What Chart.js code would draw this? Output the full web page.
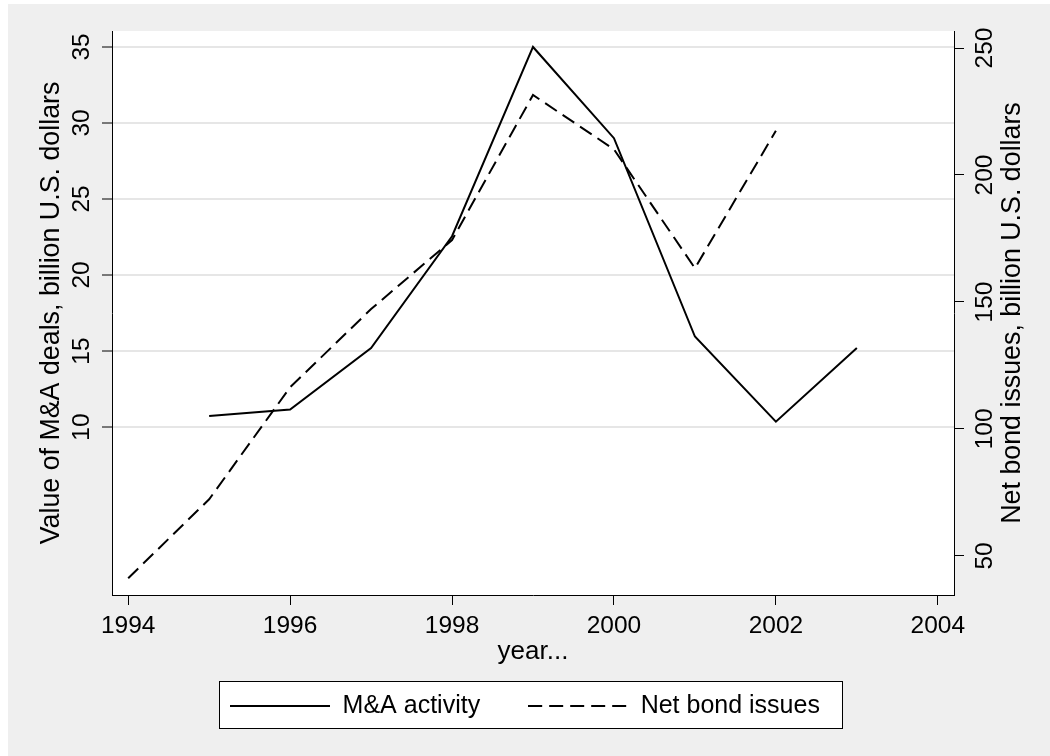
<!DOCTYPE html>
<html>
<head>
<meta charset="utf-8">
<script src="https://cdn.jsdelivr.net/npm/chart.js@4/dist/chart.umd.min.js"></script>
<style>
    html, body { margin: 0; padding: 0; background: #ffffff; }
    canvas { display: block; }
</style>
</head>
<body>
<canvas id="ma-bond-chart" width="1050" height="756"></canvas>
<script>
// 数据：按年份排列，缺失年份用 null
const years = [1994, 1995, 1996, 1997, 1998, 1999, 2000, 2001, 2002, 2003];
const maActivity = [null, 10.72, 11.15, 15.2, 22.55, 35.0, 29.0, 15.95, 10.35, 15.2];
const netBondIssues = [41.2, 72.3, 116.4, 147.2, 174.4, 231.5, 210.1, 163.3, 217.4, null];

const xTicks = [1994, 1996, 1998, 2000, 2002, 2004];
const leftTicks = [10, 15, 20, 25, 30, 35];
const rightTicks = [50, 100, 150, 200, 250];

const leftTitle = 'Value of M&A deals, billion U.S. dollars';
const rightTitle = 'Net bond issues, billion U.S. dollars';
const xTitle = 'year...';

const FONT = '"Liberation Sans", Arial, sans-serif';
const tickFont = { family: FONT, size: 24.5 };
const xTitleFont = { family: FONT, size: 26 };
const yTitleFont = { family: FONT, size: 26.8 };

/**
 * 图例线样：Chart.js 的 pointStyle 模式不带虚线，这里用小画布代替。
 * @param {number[]} dash
 */
function legendSample(dash) {
    const c = document.createElement('canvas');
    c.width = 100;
    c.height = 4;
    const g = c.getContext('2d');
    g.strokeStyle = '#000000';
    g.lineWidth = 2;
    g.setLineDash(dash);
    g.beginPath();
    g.moveTo(0, 2);
    g.lineTo(100, 2);
    g.stroke();
    return c;
}

/**
 * 背景、绘图区与图例边框（Stata 风格）。
 */
const stataFrame = {
    id: 'stataFrame',
    beforeDraw(chart) {
        const { ctx, chartArea } = chart;
        ctx.save();
        ctx.fillStyle = '#efefef';
        ctx.fillRect(8, 4, chart.width - 8, chart.height - 4);
        ctx.fillStyle = '#ffffff';
        ctx.fillRect(chartArea.left, chartArea.top, chartArea.right - chartArea.left, chartArea.bottom - chartArea.top);

        const hits = chart.legend && chart.legend.legendHitBoxes;
        if (hits && hits.length) {
            const first = hits[0];
            const last = hits[hits.length - 1];
            const left = first.left - 11;
            const right = last.left + last.width + 22;
            const top = first.top - 12.5;
            const bottom = first.top + first.height + 9.5;
            ctx.fillStyle = '#ffffff';
            ctx.fillRect(left, top, right - left, bottom - top);
            ctx.strokeStyle = '#000000';
            ctx.lineWidth = 1;
            ctx.strokeRect(Math.round(left) + 0.5, Math.round(top) + 0.5, Math.round(right - left), Math.round(bottom - top));
        }
        ctx.restore();
    },
    afterDraw(chart) {
        // 右轴标题与左轴一样自下而上书写，Chart.js 默认方向相反，所以这里单独绘制
        const { ctx, chartArea } = chart;
        ctx.save();
        ctx.translate(1013, (chartArea.top + chartArea.bottom) / 2);
        ctx.rotate(-Math.PI / 2);
        ctx.font = yTitleFont.size + 'px ' + FONT;
        ctx.fillStyle = '#000000';
        ctx.textAlign = 'center';
        ctx.textBaseline = 'middle';
        ctx.fillText(rightTitle, 0, 0);
        ctx.restore();
    }
};

const toPoints = (values) => years.map((x, i) => ({ x, y: values[i] }));

new Chart(document.getElementById('ma-bond-chart'), {
    type: 'line',
    data: {
        datasets: [
            {
                label: 'M&A activity',
                data: toPoints(maActivity),
                yAxisID: 'yLeft',
                borderColor: '#000000',
                backgroundColor: '#000000',
                borderWidth: 2,
                pointRadius: 0,
                pointStyle: legendSample([]),
                tension: 0
            },
            {
                label: 'Net bond issues',
                data: toPoints(netBondIssues),
                yAxisID: 'yRight',
                borderColor: '#000000',
                backgroundColor: '#000000',
                borderWidth: 2,
                borderDash: [14, 7],
                pointRadius: 0,
                pointStyle: legendSample([14, 7]),
                tension: 0
            }
        ]
    },
    options: {
        responsive: false,
        animation: false,
        events: [],
        layout: { padding: { top: 31, bottom: 27.5, left: 0, right: 0 } },
        scales: {
            x: {
                type: 'linear',
                min: 1993.8,
                max: 2004.2,
                afterBuildTicks: (scale) => { scale.ticks = xTicks.map((value) => ({ value })); },
                afterFit: (scale) => { scale.height = 50.5; },
                ticks: { font: tickFont, color: '#000000', padding: 7, maxRotation: 0, autoSkip: false, callback: (v) => String(v) },
                grid: { drawOnChartArea: false, drawTicks: true, tickLength: 10, tickColor: '#000000', tickWidth: 1 },
                border: { display: true, color: '#000000', width: 1 },
                title: { display: true, text: xTitle, font: xTitleFont, color: '#000000', padding: { top: 0, bottom: -22 } }
            },
            yLeft: {
                type: 'linear',
                position: 'left',
                min: -1.05,
                max: 36.05,
                afterBuildTicks: (scale) => { scale.ticks = leftTicks.map((value) => ({ value })); },
                afterFit: (scale) => { scale.width = 112; },
                ticks: { font: tickFont, color: '#000000', padding: 6.4, minRotation: 90, maxRotation: 90, crossAlign: 'center', autoSkip: false },
                grid: { color: '#e6e6e6', lineWidth: 2, drawTicks: true, tickLength: 10, tickColor: '#000000', tickWidth: 1 },
                border: { display: true, color: '#000000', width: 1 },
                title: { display: true, text: leftTitle, font: yTitleFont, color: '#000000', padding: { top: 35.5, bottom: 0 } }
            },
            yRight: {
                type: 'linear',
                position: 'right',
                min: 34.6,
                max: 256.7,
                afterBuildTicks: (scale) => { scale.ticks = rightTicks.map((value) => ({ value })); },
                afterFit: (scale) => { scale.width = 96; },
                ticks: { font: tickFont, color: '#000000', padding: 1, minRotation: 90, maxRotation: 90, crossAlign: 'center', autoSkip: false },
                grid: { drawOnChartArea: false, drawTicks: true, tickLength: 10, tickColor: '#000000', tickWidth: 1 },
                border: { display: true, color: '#000000', width: 1 }
            }
        },
        plugins: {
            legend: {
                position: 'bottom',
                labels: {
                    font: { family: FONT, size: 25 },
                    color: '#000000',
                    usePointStyle: true,
                    pointStyleWidth: 100,
                    padding: 48
                }
            },
            tooltip: { enabled: false }
        }
    },
    plugins: [stataFrame]
});
</script>
</body>
</html>
